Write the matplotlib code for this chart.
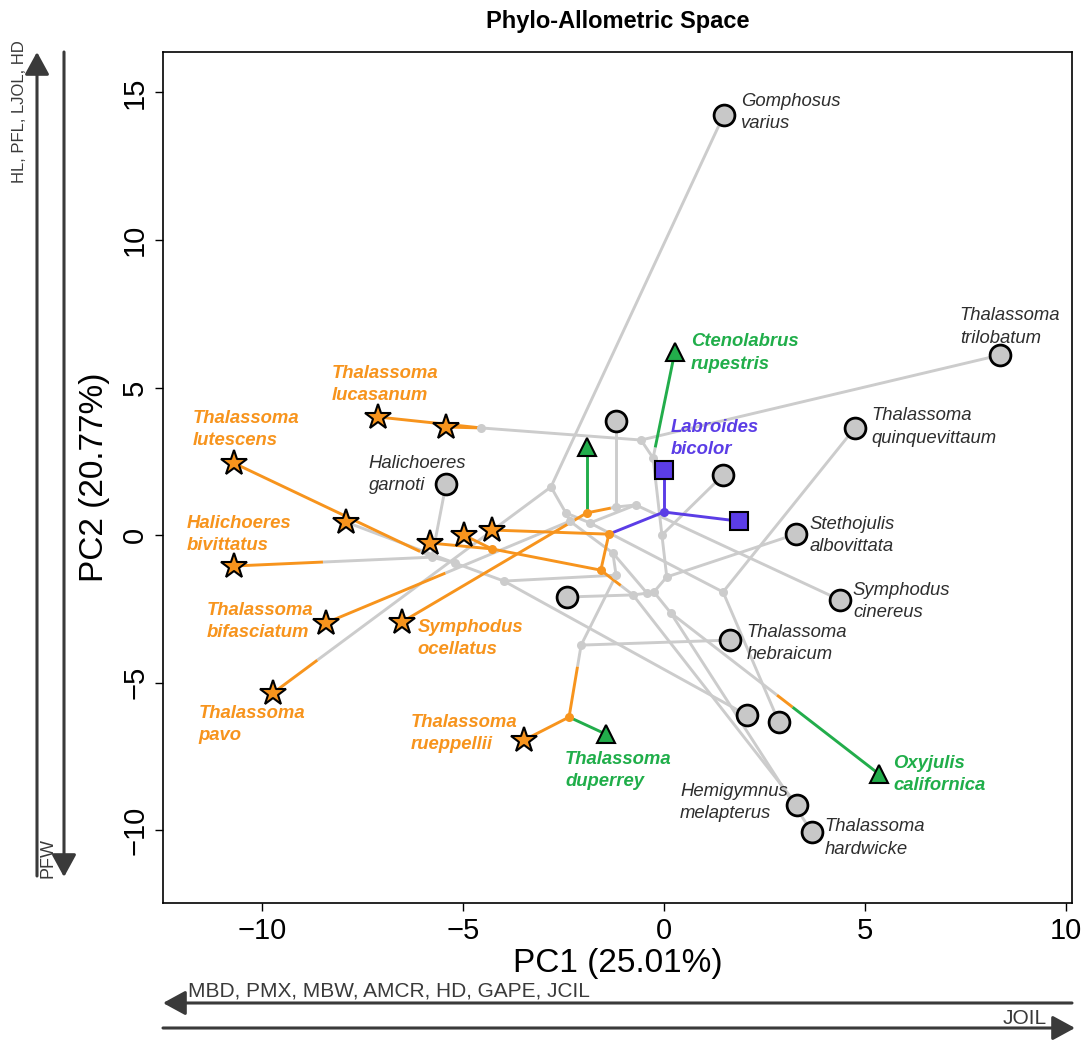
import matplotlib
matplotlib.use('Agg')
import matplotlib.pyplot as plt
from matplotlib.patches import FancyArrowPatch

# ---- tips ----
tip_names = ['Gomphosus', 'trilobatum', 'quinquevittaum', 'circ_a', 'circ_b', 'garnoti',
             'Stethojulis', 'cinereus', 'circ_c', 'hebraicum', 'circ_d', 'circ_e',
             'melapterus', 'hardwicke', 'sq1', 'sq2', 'Ctenolabrus', 'tri_a', 'duperrey',
             'Oxyjulis', 'luc1', 'luc2', 'lutescens', 'star_d', 'bivittatus', 'star_f',
             'star_g', 'star_h', 'bifasciatum', 'ocellatus', 'pavo', 'rueppellii']
tip_x = [1.49, 8.36, 4.75, -1.19, 1.47, -5.42, 3.28, 4.38, -2.41, 1.64, 2.06, 2.86,
         3.31, 3.68, 0.00, 1.87, 0.27, -1.92, -1.44, 5.35, -7.11, -5.42, -10.70, -7.91,
         -10.70, -5.82, -4.98, -4.28, -8.41, -6.52, -9.73, -3.48]
tip_y = [14.24, 6.10, 3.63, 3.86, 2.03, 1.73, 0.03, -2.20, -2.10, -3.56, -6.10, -6.34,
         -9.15, -10.07, 2.20, 0.47, 6.20, 2.98, -6.75, -8.10, 4.00, 3.66, 2.44, 0.44,
         -1.05, -0.27, 0.00, 0.17, -2.98, -2.95, -5.36, -6.95]
tip_group = ['gen', 'gen', 'gen', 'gen', 'gen', 'gen', 'gen', 'gen', 'gen', 'gen', 'gen', 'gen',
             'gen', 'gen', 'clean', 'clean', 'pick', 'pick', 'pick', 'pick', 'zoo', 'zoo',
             'zoo', 'zoo', 'zoo', 'zoo', 'zoo', 'zoo', 'zoo', 'zoo', 'zoo', 'zoo']

# ---- internal nodes (ancestral states) ----
node_names = ['M', 'D', 'C', 'B', 'E', 'H', 'G', 'F', 'N', 'X1', 'W', 'V', 'Y', 'Z',
              'Q2', 'Q1', 'L', 'K', 'J', 'Or2', 'Q3', 'P', 'O', 'I', 'A', 'Lu', 'R', 'S']
node_x = [-1.27, -2.34, -2.44, -2.81, -1.84, -0.70, -1.19, -1.92, -1.19, -3.98, -5.20, -5.77,
          -2.06, -2.36, -0.42, -0.77, -1.57, -1.37, 0.00, -4.28, -0.25, 0.07, -0.05, -0.27,
          -0.57, -4.55, 0.17, 1.47]
node_y = [-0.61, 0.47, 0.75, 1.63, 0.41, 1.02, 0.95, 0.75, -1.36, -1.56, -0.95, -0.75,
          -3.73, -6.17, -1.97, -2.03, -1.19, 0.03, 0.78, -0.47, -1.93, -1.42, 0.00, 2.61,
          3.22, 3.63, -2.64, -1.93]

# ---- tree edges (parent, child) ----
edges = [('M', 'D'), ('M', 'N'), ('M', 'Q2'),
         ('D', 'C'), ('D', 'bifasciatum'),
         ('C', 'B'), ('C', 'E'),
         ('B', 'Gomphosus'), ('B', 'pavo'),
         ('E', 'H'), ('E', 'S'),
         ('H', 'G'), ('H', 'cinereus'),
         ('G', 'F'), ('G', 'circ_a'),
         ('F', 'ocellatus'), ('F', 'tri_a'),
         ('N', 'X1'), ('N', 'Y'),
         ('X1', 'W'), ('X1', 'circ_d'),
         ('W', 'V'), ('W', 'star_d'),
         ('V', 'garnoti'), ('V', 'bivittatus'), ('V', 'lutescens'),
         ('Y', 'Z'), ('Y', 'hebraicum'),
         ('Z', 'rueppellii'), ('Z', 'duperrey'),
         ('Q2', 'Q1'), ('Q2', 'Q3'),
         ('Q1', 'L'), ('Q1', 'circ_c'), ('Q1', 'melapterus'),
         ('L', 'K'), ('L', 'Or2'),
         ('K', 'J'), ('K', 'star_h'),
         ('J', 'sq1'), ('J', 'sq2'),
         ('Or2', 'star_f'), ('Or2', 'star_g'),
         ('Q3', 'P'), ('Q3', 'R'),
         ('P', 'O'), ('P', 'Stethojulis'),
         ('O', 'I'), ('O', 'circ_b'),
         ('I', 'A'), ('I', 'Ctenolabrus'),
         ('A', 'Lu'), ('A', 'trilobatum'),
         ('Lu', 'luc1'), ('Lu', 'luc2'),
         ('R', 'Oxyjulis'), ('R', 'hardwicke'),
         ('S', 'quinquevittaum'), ('S', 'circ_e')]

# stochastic-map painting of each branch: (state, proportion) from parent to child
edge_maps = {
    'bifasciatum': [('gen', 0.51), ('zoo', 0.49)],
    'pavo': [('gen', 0.84), ('zoo', 0.16)],
    'F': [('gen', 0.18), ('zoo', 0.82)],
    'ocellatus': [('zoo', 1.0)],
    'tri_a': [('pick', 1.0)],
    'lutescens': [('gen', 0.06), ('zoo', 0.94)],
    'bivittatus': [('gen', 0.55), ('zoo', 0.45)],
    'Z': [('gen', 0.30), ('zoo', 0.70)],
    'rueppellii': [('zoo', 1.0)],
    'duperrey': [('pick', 1.0)],
    'L': [('gen', 0.38), ('zoo', 0.62)],
    'K': [('zoo', 1.0)], 'Or2': [('zoo', 1.0)],
    'J': [('clean', 1.0)], 'star_h': [('zoo', 1.0)],
    'sq1': [('clean', 1.0)], 'sq2': [('clean', 1.0)],
    'star_f': [('zoo', 1.0)], 'star_g': [('zoo', 1.0)],
    'Ctenolabrus': [('gen', 0.10), ('pick', 0.90)],
    'luc1': [('zoo', 1.0)], 'luc2': [('zoo', 1.0)],
    'Oxyjulis': [('gen', 0.51), ('zoo', 0.075), ('pick', 0.415)],
}

labels = {
    'Gomphosus': ('Gomphosus\nvarius', 1.92, 14.31),
    'trilobatum': ('Thalassoma\ntrilobatum', 7.36, 7.05),
    'quinquevittaum': ('Thalassoma\nquinquevittaum', 5.17, 3.66),
    'garnoti': ('Halichoeres\ngarnoti', -7.34, 2.05),
    'Stethojulis': ('Stethojulis\nalbovittata', 3.63, -0.02),
    'cinereus': ('Symphodus\ncinereus', 4.70, -2.24),
    'hebraicum': ('Thalassoma\nhebraicum', 2.06, -3.68),
    'melapterus': ('Hemigymnus\nmelapterus', 0.40, -9.07),
    'hardwicke': ('Thalassoma\nhardwicke', 4.00, -10.27),
    'luc1': ('Thalassoma\nlucasanum', -8.26, 5.10),
    'lutescens': ('Thalassoma\nlutescens', -11.72, 3.58),
    'bivittatus': ('Halichoeres\nbivittatus', -11.87, 0.03),
    'bifasciatum': ('Thalassoma\nbifasciatum', -11.37, -2.93),
    'ocellatus': ('Symphodus\nocellatus', -6.12, -3.51),
    'pavo': ('Thalassoma\npavo', -11.57, -6.42),
    'rueppellii': ('Thalassoma\nrueppellii', -6.29, -6.73),
    'duperrey': ('Thalassoma\nduperrey', -2.46, -7.98),
    'Oxyjulis': ('Oxyjulis\ncalifornica', 5.70, -8.12),
    'Ctenolabrus': ('Ctenolabrus\nrupestris', 0.67, 6.17),
    'sq1': ('Labroides\nbicolor', 0.17, 3.27),
}

line_col = {'gen': '#cccccc', 'zoo': '#f7941d', 'pick': '#22ad4b', 'clean': '#5b3de6'}
text_col = {'gen': '#2e2e2e', 'zoo': '#f7941d', 'pick': '#20ae4a', 'clean': '#5b3de6'}
marker = {'gen': 'o', 'zoo': '*', 'pick': '^', 'clean': 's'}
msize = {'gen': 15, 'zoo': 19, 'pick': 13, 'clean': 13}
face = {'gen': '#c8c8c8', 'zoo': '#f7941d', 'pick': '#22ad4b', 'clean': '#5b3de6'}

pos = {}
for n, x, y in zip(tip_names, tip_x, tip_y):
    pos[n] = (x, y)
for n, x, y in zip(node_names, node_x, node_y):
    pos[n] = (x, y)

W, H = 1087, 1043
fig = plt.figure(figsize=(W / 100, H / 100), dpi=100)
ax = fig.add_axes([163 / W, 1 - 903 / H, (1072 - 163) / W, (903 - 52) / H])

state_at = {}
for p, c in edges:
    x0, y0 = pos[p]
    x1, y1 = pos[c]
    segs = edge_maps.get(c, [('gen', 1.0)])
    t = 0.0
    for st, fr in segs:
        ta, tb = t, t + fr
        ax.plot([x0 + (x1 - x0) * ta, x0 + (x1 - x0) * tb],
                [y0 + (y1 - y0) * ta, y0 + (y1 - y0) * tb],
                color=line_col[st], lw=2.1, solid_capstyle='butt',
                zorder=1 if st == 'gen' else 2)
        t = tb
    state_at[c] = segs[-1][0]

for n in node_names:
    st = state_at.get(n, 'gen')
    ax.plot(*pos[n], 'o', ms=6.5, color=line_col[st], mec='none', zorder=3)

for n, x, y, g in zip(tip_names, tip_x, tip_y, tip_group):
    ax.plot(x, y, marker[g], ms=msize[g], mfc=face[g], mec='black', mew=2 if g == 'gen' else 1.5,
            zorder=5)

for n, (txt, lx, ly) in labels.items():
    g = tip_group[tip_names.index(n)]
    ax.text(lx, ly, txt, ha='left', va='center', style='italic',
            fontweight='normal' if g == 'gen' else 'bold', color=text_col[g],
            fontsize=13.3, family=['Liberation Sans', 'DejaVu Sans'], linespacing=1.4, zorder=6)

ax.set_xlim(-12.46, 10.15)
ax.set_ylim(-12.47, 16.37)
ax.set_xticks([-10, -5, 0, 5, 10])
ax.set_yticks([-10, -5, 0, 5, 10, 15])
sans = ['Liberation Sans', 'DejaVu Sans']
for lab in ax.get_xticklabels() + ax.get_yticklabels():
    lab.set_family(sans)
    lab.set_fontsize(21)
for lab in ax.get_yticklabels():
    lab.set_rotation(90)
    lab.set_va('center')
ax.tick_params(direction='out', length=6, width=1, pad=4)
for s in ax.spines.values():
    s.set_linewidth(1.2)
ax.set_xlabel('PC1 (25.01%)', fontsize=24, family=sans, labelpad=2)
ax.set_ylabel('PC2 (20.77%)', fontsize=24, family=sans, labelpad=8)
ax.set_title('Phylo-Allometric Space', fontsize=17, fontweight='bold',
             family=sans, pad=17)


def fp(px, py):
    return (px / W, 1 - py / H)


arrow_col = '#3a3a3a'
arrows = [((37, 876), (37, 52)), ((64, 52), (64, 877)),
          ((1072, 1003), (163, 1003)), ((163, 1028), (1075, 1028))]
for a, b in arrows:
    fig.add_artist(FancyArrowPatch(fp(*a), fp(*b), transform=fig.transFigure,
                                   arrowstyle='-|>,head_length=0.55,head_width=0.3',
                                   mutation_scale=25, color=arrow_col, lw=2.2,
                                   shrinkA=0, shrinkB=0))
fig.text(*fp(20, 40), 'HL, PFL, LJOL, HD', rotation=90, ha='center', va='top',
         fontsize=12, family=sans, color=arrow_col)
fig.text(*fp(48, 878), 'PFW', rotation=90, ha='center', va='bottom',
         fontsize=13, family=sans, color=arrow_col)
fig.text(*fp(188, 991), 'MBD, PMX, MBW, AMCR, HD, GAPE, JCIL', ha='left', va='center',
         fontsize=15, family=sans, color=arrow_col)
fig.text(*fp(1047, 1018), 'JOIL', ha='right', va='center',
         fontsize=15, family=sans, color=arrow_col)

fig.savefig('out.png', dpi=100)
